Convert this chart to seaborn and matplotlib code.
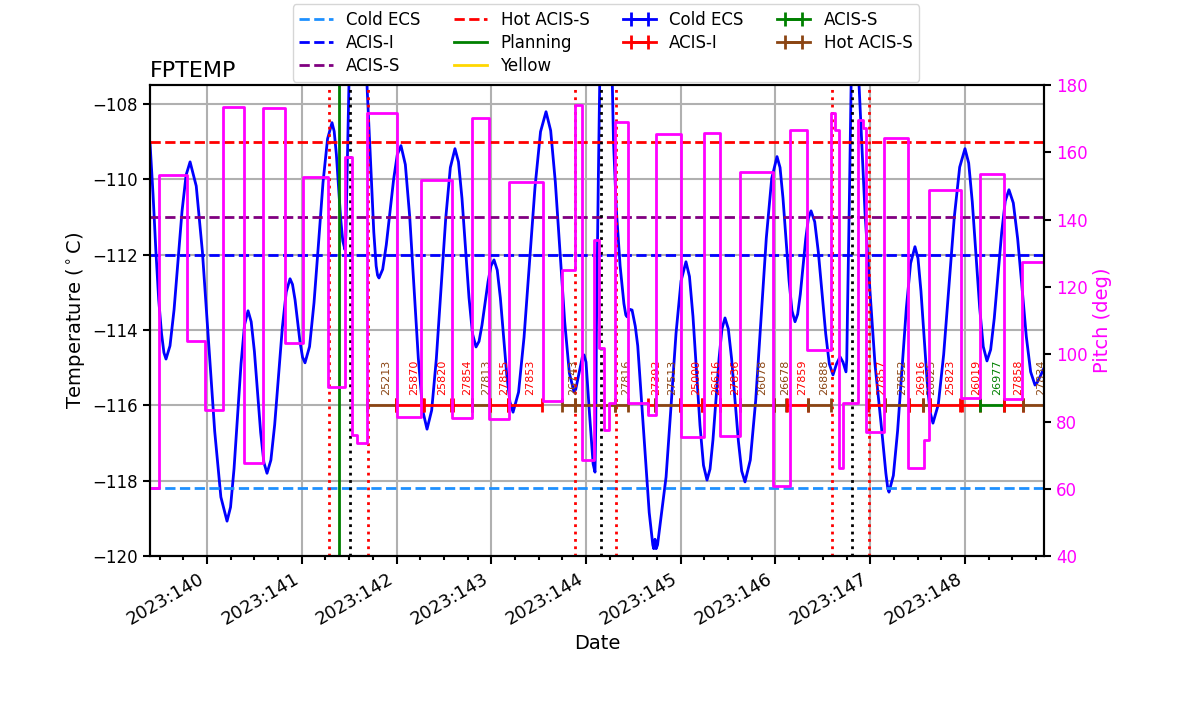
import numpy as np
import matplotlib
matplotlib.use('Agg')
import matplotlib.pyplot as plt
import matplotlib.dates as mdates
import seaborn as sns
from datetime import datetime

# model FPTEMP, times as 2023 day of year
temp_doy = [139.398, 139.43, 139.46, 139.49, 139.52, 139.545, 139.567,
            139.609, 139.652, 139.694, 139.736, 139.779, 139.821,
            139.886, 139.951, 140.016, 140.081, 140.146, 140.211,
            140.248, 140.285, 140.322, 140.359, 140.396, 140.433,
            140.466, 140.500, 140.533, 140.566, 140.600, 140.633,
            140.674, 140.714, 140.755, 140.795, 140.836, 140.876,
            140.902, 140.929, 140.955, 140.981, 141.008, 141.034,
            141.082, 141.129, 141.177, 141.224, 141.272, 141.319,
            141.342, 141.365, 141.388, 141.410, 141.433, 141.456,
            141.465, 141.475, 141.49, 141.51, 141.55, 141.59, 141.63, 141.67, 141.69, 141.72,
            141.76, 141.785, 141.80, 141.815,
            141.854, 141.892, 141.931, 141.970, 142.008, 142.047,
            142.093, 142.139, 142.185, 142.230, 142.276, 142.322,
            142.371, 142.420, 142.470, 142.519, 142.568, 142.617,
            142.654, 142.691, 142.728, 142.765, 142.802, 142.839,
            142.871, 142.902, 142.934, 142.966, 142.997, 143.029,
            143.063, 143.096, 143.130, 143.163, 143.197, 143.230,
            143.288, 143.346, 143.404, 143.462, 143.520, 143.578,
            143.627, 143.676, 143.726, 143.775, 143.824, 143.873,
            143.891, 143.926, 143.961, 143.979, 144.0, 144.037, 144.075, 144.095,
            144.103, 144.11, 144.13, 144.15, 144.18, 144.21, 144.24, 144.27, 144.29, 144.32,
            144.36, 144.40, 144.42, 144.433, 144.46, 144.486,
            144.52, 144.546, 144.607, 144.667, 144.69, 144.705, 144.715, 144.728, 144.74,
            144.755, 144.845, 144.898, 144.950, 145.003, 145.055,
            145.092, 145.129, 145.166, 145.203, 145.240, 145.277,
            145.309, 145.340, 145.372, 145.404, 145.435, 145.467,
            145.502, 145.537, 145.573, 145.608, 145.643, 145.678,
            145.734, 145.791, 145.847, 145.903, 145.960, 146.016,
            146.048, 146.079, 146.111, 146.143, 146.174, 146.206,
            146.234, 146.262, 146.291, 146.319, 146.347, 146.375,
            146.414, 146.452, 146.491, 146.530, 146.568, 146.607,
            146.644, 146.681, 146.712, 146.744,
            146.752, 146.76, 146.78, 146.80, 146.82, 146.84, 146.86, 146.88, 146.945, 146.998,
            147.05, 147.121, 147.165, 147.185, 147.198,
            147.244, 147.289, 147.335, 147.381, 147.426, 147.472,
            147.504, 147.535, 147.567, 147.599, 147.630, 147.662,
            147.718, 147.775, 147.831, 147.887, 147.944, 148.0,
            148.039, 148.077, 148.116, 148.155, 148.193, 148.232,
            148.271, 148.309, 148.348, 148.387, 148.425, 148.464,
            148.510, 148.556, 148.602, 148.647, 148.693, 148.739,
            148.765, 148.79, 148.834]
temp_degc = [-109.03, -110.4, -111.9, -113.2, -114.1, -114.6, -114.77,
             -114.42, -113.46, -112.16, -110.85, -109.89, -109.54,
             -110.18, -111.92, -114.31, -116.69, -118.43, -119.07,
             -118.70, -117.68, -116.28, -114.89, -113.86, -113.49,
             -113.78, -114.57, -115.65, -116.72, -117.51, -117.80,
             -117.45, -116.51, -115.22, -113.93, -112.99, -112.64,
             -112.79, -113.20, -113.76, -114.31, -114.72, -114.87,
             -114.44, -113.28, -111.69, -110.09, -108.93, -108.50,
             -108.73, -109.34, -110.19, -111.03, -111.64, -111.87,
             -111.5, -110.3, -108.5, -106.0, -103.0, -102.0, -103.5, -106.0, -107.6, -109.2,
             -111.4, -112.3, -112.55, -112.62,
             -112.39, -111.74, -110.87, -109.99, -109.35, -109.11,
             -109.61, -110.99, -112.87, -114.75, -116.13, -116.63,
             -116.13, -114.77, -112.91, -111.05, -109.69, -109.19,
             -109.54, -110.51, -111.82, -113.14, -114.10, -114.45,
             -114.30, -113.87, -113.30, -112.72, -112.30, -112.14,
             -112.41, -113.15, -114.16, -115.17, -115.91, -116.18,
             -115.65, -114.19, -112.20, -110.20, -108.74, -108.21,
             -108.71, -110.07, -111.93, -113.78, -115.14, -115.64,
             -115.58, -115.15, -114.72, -114.66, -114.85, -116.22, -117.55, -117.77,
             -116.5, -114.0, -110.0, -106.5, -102.0, -100.5, -102.0, -106.5, -109.0, -110.8,
             -112.3, -113.3, -113.6, -113.65, -113.45, -113.47,
             -113.9, -114.42, -116.63, -118.84, -119.35, -119.7, -119.8, -119.55, -119.8,
             -119.7, -117.90, -116.00, -114.09, -112.70, -112.19,
             -112.58, -113.64, -115.09, -116.53, -117.59, -117.98,
             -117.69, -116.91, -115.83, -114.76, -113.97, -113.68,
             -113.97, -114.77, -115.86, -116.94, -117.74, -118.03,
             -117.45, -115.87, -113.72, -111.56, -109.98, -109.40,
             -109.69, -110.50, -111.59, -112.69, -113.49, -113.78,
             -113.58, -113.05, -112.31, -111.58, -111.04, -110.84,
             -111.13, -111.93, -113.02, -114.10, -114.90, -115.19,
             -114.9, -114.71, -114.85, -115.11,
             -114.8, -113.5, -110.5, -107.2, -104.5, -103.8, -104.8, -107.4, -110.9, -113.0,
             -114.9, -116.65, -117.8, -118.2, -118.30,
             -117.86, -116.67, -115.05, -113.42, -112.23, -111.79,
             -112.10, -112.96, -114.13, -115.30, -116.16, -116.47,
             -115.98, -114.65, -112.83, -111.01, -109.68, -109.19,
             -109.57, -110.60, -112.01, -113.41, -114.44, -114.82,
             -114.52, -113.69, -112.55, -111.42, -110.58, -110.28,
             -110.63, -111.58, -112.87, -114.17, -115.11, -115.46,
             -115.38, -115.25, -115.01]

# pitch: value holds from each time until the next one
pitch_doy = [139.398, 139.493, 139.789, 139.979, 140.169, 140.391, 140.591, 140.823, 141.013,
             141.277, 141.456, 141.530, 141.583, 141.689, 142.005, 142.259, 142.586, 142.797,
             142.976, 143.187, 143.546, 143.747, 143.884, 143.958, 144.084, 144.137, 144.190,
             144.243, 144.306, 144.443, 144.654, 144.739, 145.003, 145.245, 145.414, 145.625,
             145.973, 146.153, 146.332, 146.586, 146.628, 146.670, 146.712, 146.871, 146.924,
             146.955, 147.145, 147.398, 147.567, 147.620, 147.958, 148.158, 148.412, 148.602,
             148.834]
pitch_deg = [60.2, 153.2, 103.9, 83.4, 173.5, 67.6, 173.2, 103.3, 152.6,
             90.2, 158.6, 76.0, 73.6, 171.7, 81.3, 151.8, 81.0, 170.2,
             80.7, 151.2, 86.1, 125.0, 174.0, 68.5, 134.0, 102.0, 77.5,
             85.5, 169.0, 85.5, 82.0, 165.4, 75.4, 165.7, 75.7, 154.1,
             60.8, 166.6, 101.2, 171.7, 166.6, 66.2, 85.5, 169.6, 167.2,
             76.9, 164.2, 66.2, 74.5, 148.8, 87.0, 153.5, 86.7, 127.4,
             127.4]

# limit lines
limit_names = ['Cold ECS', 'ACIS-I', 'ACIS-S', 'Hot ACIS-S', 'Planning', 'Yellow']
limit_values = [-118.2, -112.0, -111.0, -109.0, -84.0, -82.0]
limit_colors = ['dodgerblue', 'blue', 'purple', 'red', 'green', 'gold']
limit_styles = ['--', '--', '--', '--', '-', '-']

# radiation zone and perigee markers
rad_zone_doy = [141.291, 141.696, 143.884, 144.313, 146.593, 146.990]
perigee_doy = [141.509, 144.158, 146.804]
green_line_doy = [141.397]

# science observations
obs_start = [141.689, 141.995, 142.290, 142.596, 142.797, 142.987, 143.177, 143.747, 143.884,
             144.306, 144.654, 144.728, 144.992, 145.224, 145.414, 145.625, 145.984, 146.121,
             146.343, 146.977, 147.156, 147.409, 147.557, 147.631, 147.968, 148.158, 148.412,
             148.612]
obs_stop = [141.995, 142.280, 142.575, 142.797, 142.987, 143.177, 143.536, 143.884, 144.306,
            144.443, 144.728, 144.992, 145.224, 145.414, 145.625, 145.984, 146.111, 146.343,
            146.586, 147.156, 147.409, 147.557, 147.631, 147.947, 148.158, 148.412, 148.612,
            148.897]
obs_inst = ['Hot ACIS-S', 'ACIS-I', 'ACIS-I', 'ACIS-I', 'Hot ACIS-S', 'ACIS-I', 'ACIS-I',
            'Hot ACIS-S', 'Hot ACIS-S', 'Hot ACIS-S', 'ACIS-I', 'Hot ACIS-S', 'ACIS-I', 'ACIS-I',
            'ACIS-I', 'Hot ACIS-S', 'Hot ACIS-S', 'ACIS-I', 'Hot ACIS-S', 'ACIS-I', 'Hot ACIS-S',
            'ACIS-I', 'Hot ACIS-S', 'ACIS-I', 'ACIS-I', 'ACIS-S', 'ACIS-I', 'Hot ACIS-S']
obs_ids = ['25213', '25870', '25820', '27854', '27813', '27855', '27853', '26743', '',
           '27816', '27392', '27513', '25000', '26616', '27836', '26078', '26678', '27859',
           '26888', '27857', '27852', '26916', '26825', '25823', '26019', '26977', '27858',
           '27834']
obs_level = -116.0
inst_names = ['Cold ECS', 'ACIS-I', 'ACIS-S', 'Hot ACIS-S']
inst_colors = ['blue', 'red', 'green', 'saddlebrown']


def to_num(doy):
    # 2023 day of year -> matplotlib date number
    return mdates.date2num(datetime(2023, 1, 1)) - 1.0 + np.asarray(doy, dtype=float)


fig, ax = plt.subplots(figsize=(12, 7.14), dpi=100)
fig.subplots_adjust(left=0.125, right=0.87, bottom=0.221, top=0.881)
ax2 = ax.twinx()

ax.grid(True, color='#b0b0b0', lw=1.5)
ax.set_axisbelow(True)

# temperature
sns.lineplot(x=to_num(temp_doy), y=temp_degc, ax=ax, color='blue', linewidth=2,
             legend=False)

# limit lines
handles = []
for name, val, col, ls in zip(limit_names, limit_values, limit_colors, limit_styles):
    h = ax.axhline(val, color=col, ls=ls, lw=2, label=name)
    handles.append(h)

for t in to_num(rad_zone_doy):
    ax.axvline(t, color='red', ls=':', lw=2)
for t in to_num(perigee_doy):
    ax.axvline(t, color='black', ls=':', lw=2)
for t in to_num(green_line_doy):
    ax.axvline(t, color='green', ls='-', lw=2)

# observations
inst_color = dict(zip(inst_names, inst_colors))
starts = to_num(obs_start)
stops = to_num(obs_stop)
for s, e, inst, oid in zip(starts, stops, obs_inst, obs_ids):
    mid = 0.5 * (s + e)
    c = inst_color[inst]
    ax.errorbar(mid, obs_level, xerr=0.5 * (e - s), color=c, lw=2,
                capsize=5, capthick=2)
    if oid:
        ax.text(mid, obs_level + 0.27, oid, rotation=90, color=c, fontsize=8,
                ha='left', va='bottom')

# legend entries for instruments
for name, col in zip(inst_names, inst_colors):
    h = ax.errorbar([np.nan], [np.nan], xerr=[np.nan], color=col, lw=2,
                    capsize=5, capthick=2, label=name)
    handles.append(h)

# pitch
sns.lineplot(x=to_num(pitch_doy), y=pitch_deg, ax=ax2, color='magenta', linewidth=2,
             drawstyle='steps-post', legend=False)

ax.set_ylim(-120, -107.5)
ax.set_yticks(np.arange(-120, -107, 2))
ax2.set_ylim(40, 180)
ax2.set_yticks(np.arange(40, 181, 20))
ax.set_xlim(to_num([139.398, 148.834]))

ax.xaxis.set_major_locator(mdates.DayLocator())
ax.xaxis.set_minor_locator(mdates.HourLocator(byhour=[0, 6, 12, 18]))
ax.xaxis.set_major_formatter(mdates.DateFormatter('%Y:%j'))

ax.tick_params(axis='y', which='major', labelsize=12, width=1.5, length=5)
ax.tick_params(axis='x', which='major', labelsize=13, width=1.5, length=6)
ax.tick_params(axis='x', which='minor', width=1.5, length=3)
ax2.tick_params(axis='y', labelsize=12, labelcolor='magenta', width=1.5, length=5)
plt.setp(ax.get_xticklabels(), rotation=30, ha='right')
for a in (ax, ax2):
    for sp in a.spines.values():
        sp.set_linewidth(1.5)

ax.set_xlabel('Date', fontsize=14)
ax.set_ylabel(r'Temperature ($^\circ$C)', fontsize=14)
ax2.set_ylabel('Pitch (deg)', fontsize=14, color='magenta')
ax.set_title('FPTEMP', loc='left', fontsize=16)

ax2.legend(handles, [h.get_label() for h in handles], loc='lower center',
           bbox_to_anchor=(0.51, 1.0), ncol=4, fontsize=12, labelspacing=0.3,
           borderaxespad=0.2)

plt.savefig('out.png', dpi=100)
plt.close()
